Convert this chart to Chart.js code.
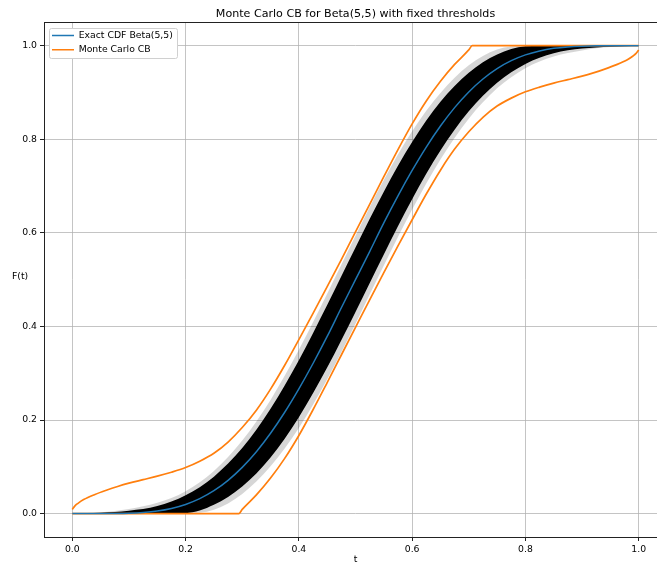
<!DOCTYPE html>
<html>
<head>
<meta charset="utf-8">
<script src="https://cdn.jsdelivr.net/npm/chart.js@4.4.1/dist/chart.umd.min.js"></script>
<style>
  html, body { margin: 0; padding: 0; overflow: hidden; background: #fff; }
  #wrap { position: relative; width: 667px; height: 564px; }
  #ylab { position: absolute; left: 12px; top: 270px; font: 9.3px 'DejaVu Sans', sans-serif; color: #000; }
</style>
</head>
<body>
<div id="wrap">
  <canvas id="cbChart" width="667" height="564"></canvas>
  <div id="ylab">F(t)</div>
</div>
<script>
// exact CDF of Beta(5,5)
const cdfT = [0, 0.025, 0.05, 0.075, 0.1, 0.125, 0.15, 0.175, 0.2, 0.225, 0.25, 0.275, 0.3, 0.325, 0.35, 0.375, 0.4, 0.425, 0.45, 0.475, 0.5,
	0.525, 0.55, 0.575, 0.6, 0.625, 0.65, 0.675, 0.7, 0.725, 0.75, 0.775, 0.8, 0.825, 0.85, 0.875, 0.9, 0.925, 0.95, 0.975, 1.0];
const cdfF = [0, 0, 0, 0.0002, 0.0009, 0.0025, 0.0056, 0.0111, 0.0196, 0.032, 0.0489, 0.0711, 0.0988, 0.1323, 0.1717, 0.2166, 0.2666, 0.3208, 0.3786, 0.4399, 0.5,
	0.5601, 0.6214, 0.6792, 0.7334, 0.7834, 0.8283, 0.8677, 0.9012, 0.9289, 0.9511, 0.968, 0.9804, 0.9889, 0.9944, 0.9975, 0.9991, 0.9998, 1, 1, 1];

// Monte Carlo confidence band (orange)
const upperT = [0, 0.005, 0.01, 0.02, 0.04, 0.06, 0.08, 0.1, 0.125, 0.15, 0.175, 0.2, 0.225, 0.25, 0.275, 0.3, 0.325, 0.35, 0.375, 0.4,
	0.425, 0.45, 0.475, 0.5, 0.525, 0.55, 0.575, 0.6, 0.625, 0.65, 0.675, 0.7, 0.706, 1.0];
const upperF = [0.009, 0.017, 0.022, 0.03, 0.041, 0.05, 0.058, 0.065, 0.0725, 0.08, 0.0885, 0.0985, 0.112, 0.129, 0.153, 0.184, 0.221, 0.266, 0.317, 0.372,
	0.428, 0.485, 0.543, 0.602, 0.661, 0.72, 0.778, 0.833, 0.882, 0.924, 0.96, 0.991, 1.0, 1.0];
const lowerT = [0, 0.294, 0.3, 0.325, 0.35, 0.375, 0.4, 0.425, 0.45, 0.475, 0.5, 0.525, 0.55, 0.575, 0.6, 0.625, 0.65, 0.675, 0.7,
	0.725, 0.75, 0.775, 0.8, 0.825, 0.85, 0.875, 0.9, 0.92, 0.94, 0.96, 0.98, 0.99, 0.995, 1.0];
const lowerF = [0, 0, 0.009, 0.04, 0.076, 0.118, 0.167, 0.222, 0.28, 0.339, 0.398, 0.457, 0.515, 0.572, 0.628, 0.683, 0.734, 0.779, 0.816,
	0.847, 0.871, 0.888, 0.9015, 0.9115, 0.92, 0.9275, 0.935, 0.942, 0.95, 0.959, 0.97, 0.978, 0.983, 0.991];

// spread of the simulated empirical CDFs (black cloud)
const cloudT = [0, 0.05, 0.1, 0.15, 0.2, 0.25, 0.3, 0.35, 0.4, 0.45, 0.5, 0.55, 0.6, 0.65, 0.7, 0.75, 0.8, 0.85, 0.9, 0.95, 1.0];
const coreHi = [0, 0.002, 0.006, 0.016, 0.039, 0.079, 0.14, 0.224, 0.328, 0.446, 0.569, 0.688, 0.794, 0.88, 0.942, 0.981, 0.999, 1, 1, 1, 1];
const coreLo = [0, 0, 0, 0, 0.001, 0.019, 0.058, 0.12, 0.206, 0.312, 0.431, 0.554, 0.672, 0.776, 0.86, 0.921, 0.961, 0.984, 0.994, 0.998, 1];
const fringeHi = [0, 0.003, 0.01, 0.023, 0.048, 0.091, 0.156, 0.243, 0.35, 0.47, 0.594, 0.713, 0.817, 0.899, 0.958, 0.992, 1, 1, 1, 1, 1];
const fringeLo = [0, 0, 0, 0, 0, 0.008, 0.042, 0.101, 0.183, 0.287, 0.406, 0.53, 0.65, 0.757, 0.844, 0.909, 0.952, 0.977, 0.99, 0.997, 1];

const xTicks = [0, 0.2, 0.4, 0.6, 0.8, 1.0];
const yTicks = [0, 0.2, 0.4, 0.6, 0.8, 1.0];

const pts = (xs, ys) => xs.map((x, i) => ({ x: x, y: ys[i] }));
const font = { family: "'DejaVu Sans', sans-serif", size: 9.3 };
const gridColor = "rgba(176,176,176,0.75)";

Chart.defaults.color = "#000";
Chart.defaults.font.family = font.family;

const frame = {
	id: "frame",
	afterLayout(chart) {
		const a = chart.chartArea;
		const lg = chart.legend;
		lg.left = a.left + 3;
		lg.top = a.top + 3.5;
		lg.right = a.right;
		lg.bottom = a.bottom;
	},
	afterDraw(chart) {
		const ctx = chart.ctx;
		const a = chart.chartArea;
		ctx.save();
		ctx.strokeStyle = "#222";
		ctx.lineWidth = 1;
		ctx.strokeRect(Math.round(a.left) + 0.5, Math.round(a.top) + 0.5, a.right - a.left + 5, Math.round(a.bottom) - Math.round(a.top));
		// legend frame
		ctx.fillStyle = "#fff";
		ctx.strokeStyle = "#d0d0d0";
		ctx.beginPath();
		ctx.roundRect(Math.round(a.left) + 5.5, Math.round(a.top) + 6.5, 128, 30, 2);
		ctx.fill();
		ctx.stroke();
		ctx.restore();
		chart.legend.draw();
	},
};

const cbChart = new Chart(document.getElementById("cbChart"), {
	type: "line",
	data: {
		datasets: [
			{
				label: "Exact CDF Beta(5,5)",
				data: pts(cdfT, cdfF),
				borderColor: "#1f77b4",
				borderWidth: 1.5,
				order: 0,
			},
			{
				label: "Monte Carlo CB",
				data: pts(upperT, upperF),
				borderColor: "#ff7f0e",
				borderWidth: 1.7,
				order: 1,
			},
			{
				label: "Monte Carlo CB (lower)",
				data: pts(lowerT, lowerF),
				borderColor: "#ff7f0e",
				borderWidth: 1.7,
				order: 1,
			},
			{
				label: "core hi",
				data: pts(cloudT, coreHi),
				borderWidth: 0,
				borderColor: "rgba(0,0,0,0)",
				backgroundColor: "#000",
				fill: "+1",
				order: 2,
			},
			{
				label: "core lo",
				data: pts(cloudT, coreLo),
				borderWidth: 0,
				borderColor: "rgba(0,0,0,0)",
				fill: false,
				order: 2,
			},
			{
				label: "fringe hi",
				data: pts(cloudT, fringeHi),
				borderWidth: 0,
				borderColor: "rgba(0,0,0,0)",
				backgroundColor: "rgba(0,0,0,0.16)",
				fill: "+1",
				order: 3,
			},
			{
				label: "fringe lo",
				data: pts(cloudT, fringeLo),
				borderWidth: 0,
				borderColor: "rgba(0,0,0,0)",
				fill: false,
				order: 3,
			},
		],
	},
	options: {
		responsive: false,
		animation: false,
		events: [],
		elements: {
			point: { radius: 0 },
			line: { cubicInterpolationMode: "monotone", fill: false },
		},
		layout: { padding: 0 },
		plugins: {
			title: {
				display: true,
				text: "Monte Carlo CB for Beta(5,5) with fixed thresholds",
				fullSize: false,
				font: { family: font.family, size: 11.1, weight: "normal", lineHeight: 1.2 },
				color: "#000",
				padding: { top: 7, bottom: 2 },
			},
			legend: {
				position: "chartArea",
				align: "start",
				labels: {
					font: font,
					color: "#000",
					usePointStyle: true,
					pointStyle: "line",
					pointStyleWidth: 22,
					padding: 5,
					filter: (item) => item.datasetIndex < 2,
				},
			},
			tooltip: { enabled: false },
		},
		scales: {
			x: {
				type: "linear",
				min: -0.05,
				max: 1.05,
				afterBuildTicks: (scale) => {
					scale.ticks = xTicks.map((v) => ({ value: v }));
				},
				afterFit: (scale) => {
					scale.height = 27;
				},
				ticks: {
					font: font,
					color: "#000",
					padding: 3,
					maxRotation: 0,
					callback: (v) => v.toFixed(1),
				},
				grid: { color: gridColor, tickColor: "#222", tickLength: 4, lineWidth: 1 },
				border: { display: false },
				title: {
					display: true,
					text: "t",
					font: { family: font.family, size: 9.3, lineHeight: 1.0 },
					color: "#000",
					padding: 0,
				},
			},
			y: {
				type: "linear",
				min: -0.05,
				max: 1.05,
				afterBuildTicks: (scale) => {
					scale.ticks = yTicks.map((v) => ({ value: v }));
				},
				afterFit: (scale) => {
					scale.width = 44;
				},
				ticks: {
					font: font,
					color: "#000",
					padding: 3,
					callback: (v) => v.toFixed(1),
				},
				grid: { color: gridColor, tickColor: "#222", tickLength: 4, lineWidth: 1 },
				border: { display: false },
			},
		},
	},
	plugins: [frame],
});
</script>
</body>
</html>
